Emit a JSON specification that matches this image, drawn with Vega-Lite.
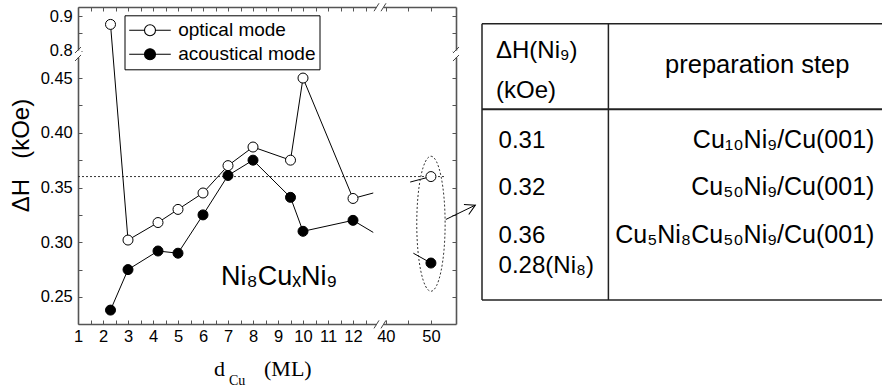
{
  "$schema": "https://vega.github.io/schema/vega-lite/v6.json",
  "padding": {"left": 9, "top": 2, "right": 0, "bottom": 0},
  "bounds": "flush",
  "spacing": 26,
  "config": {"font": "Liberation Sans", "view": {"stroke": null}, "axis": {"grid": false}},
  "hconcat": [
    {
      "width": 378,
      "height": 317,
      "data": {"values": [
        {"mode": "optical mode", "d": 2.3, "dH": 0.876, "part": "a", "kind": "measured"},
        {"mode": "optical mode", "d": 3, "dH": 0.302, "part": "a", "kind": "measured"},
        {"mode": "optical mode", "d": 4.2, "dH": 0.318, "part": "a", "kind": "measured"},
        {"mode": "optical mode", "d": 5, "dH": 0.330, "part": "a", "kind": "measured"},
        {"mode": "optical mode", "d": 6, "dH": 0.345, "part": "a", "kind": "measured"},
        {"mode": "optical mode", "d": 7, "dH": 0.370, "part": "a", "kind": "measured"},
        {"mode": "optical mode", "d": 8, "dH": 0.387, "part": "a", "kind": "measured"},
        {"mode": "optical mode", "d": 9.5, "dH": 0.375, "part": "a", "kind": "measured"},
        {"mode": "optical mode", "d": 10, "dH": 0.450, "part": "a", "kind": "measured"},
        {"mode": "optical mode", "d": 12, "dH": 0.340, "part": "a", "kind": "measured"},
        {"mode": "optical mode", "d": 12.81, "dH": 0.345, "part": "a", "kind": "stub"},
        {"mode": "optical mode", "d": 45.4, "dH": 0.355, "part": "b", "kind": "stub"},
        {"mode": "optical mode", "d": 50, "dH": 0.360, "part": "b", "kind": "measured"},
        {"mode": "acoustical mode", "d": 2.3, "dH": 0.238, "part": "a", "kind": "measured"},
        {"mode": "acoustical mode", "d": 3, "dH": 0.275, "part": "a", "kind": "measured"},
        {"mode": "acoustical mode", "d": 4.2, "dH": 0.292, "part": "a", "kind": "measured"},
        {"mode": "acoustical mode", "d": 5, "dH": 0.290, "part": "a", "kind": "measured"},
        {"mode": "acoustical mode", "d": 6, "dH": 0.325, "part": "a", "kind": "measured"},
        {"mode": "acoustical mode", "d": 7, "dH": 0.361, "part": "a", "kind": "measured"},
        {"mode": "acoustical mode", "d": 8, "dH": 0.375, "part": "a", "kind": "measured"},
        {"mode": "acoustical mode", "d": 9.5, "dH": 0.341, "part": "a", "kind": "measured"},
        {"mode": "acoustical mode", "d": 10, "dH": 0.310, "part": "a", "kind": "measured"},
        {"mode": "acoustical mode", "d": 12, "dH": 0.320, "part": "a", "kind": "measured"},
        {"mode": "acoustical mode", "d": 12.81, "dH": 0.309, "part": "a", "kind": "stub"},
        {"mode": "acoustical mode", "d": 46.1, "dH": 0.290, "part": "b", "kind": "stub"},
        {"mode": "acoustical mode", "d": 50, "dH": 0.281, "part": "b", "kind": "measured"}
      ]},
      "layer": [
        {
          "data": {"values": [{}]},
          "mark": {"type": "rule", "strokeDash": [2, 2], "color": "#333", "strokeWidth": 1},
          "encoding": {
            "x": {"datum": 1, "type": "quantitative", "axis": null},
            "x2": {"datum": 53.2},
            "y": {"datum": 0.36, "type": "quantitative", "axis": null}
          }
        },
        {
          "mark": {"type": "line", "color": "black", "strokeWidth": 1, "clip": false},
          "encoding": {
            "x": {
              "field": "d", "type": "quantitative",
              "scale": {"type": "linear", "domain": [1, 13.08, 38.7, 55.56], "range": [0, 302, 302, 378], "nice": false, "zero": false},
              "axis": {
                "orient": "bottom", "title": null,
                "values": [1,1.5,2,2.5,3,3.5,4,4.5,5,5.5,6,6.5,7,7.5,8,8.5,9,9.5,10,10.5,11,11.5,12,12.5,40,45,50],
                "labelExpr": "((datum.value % 1 == 0) && datum.value <= 12) || datum.value == 40 || datum.value == 50 ? format(datum.value, 'd') : ''",
                "tickSize": -4, "labelPadding": 8, "labelFontSize": 16.5, "labelColor": "black", "labelFont": "Liberation Sans",
                "domainColor": "#555", "domainWidth": 1.6, "tickColor": "#555", "tickWidth": 1,
                "labelOverlap": false, "labelFlush": false, "labelBound": false
              }
            },
            "y": {
              "field": "dH", "type": "quantitative",
              "scale": {"type": "linear", "domain": [0.2253, 0.472, 0.791, 0.926], "range": [317, 47, 47, 0], "nice": false, "zero": false},
              "axis": {
                "orient": "left", "title": "ΔH\u00a0\u00a0\u00a0(kOe)",
                "values": [0.25,0.275,0.3,0.325,0.35,0.375,0.4,0.425,0.45,0.8,0.85,0.9],
                "labelExpr": "datum.value >= 0.7 ? (datum.value == 0.85 ? '' : format(datum.value, '.1f')) : (indexof([0.25,0.3,0.35,0.4,0.45], datum.value) >= 0 ? format(datum.value, '.2f') : '')",
                "tickSize": -4, "labelPadding": 9.7, "labelFontSize": 16.5, "labelColor": "black", "labelFont": "Liberation Sans",
                "domainColor": "#555", "domainWidth": 1.6, "tickColor": "#555", "tickWidth": 1,
                "labelOverlap": false, "labelFlush": false, "labelBound": false,
                "titleFontSize": 24, "titleFont": "Liberation Sans", "titleFontWeight": "normal", "titleColor": "black",
                "titlePadding": 7, "titleY": 148
              }
            },
            "detail": [{"field": "mode"}, {"field": "part"}]
          }
        },
        {
          "transform": [{"filter": "datum.kind == 'measured'"}],
          "mark": {"type": "point", "shape": "circle", "size": 100, "filled": true, "stroke": "black", "strokeWidth": 1, "opacity": 1, "clip": false},
          "encoding": {
            "x": {
              "field": "d", "type": "quantitative",
              "axis": {
                "orient": "top", "title": null, "labels": false,
                "values": [1,1.5,2,2.5,3,3.5,4,4.5,5,5.5,6,6.5,7,7.5,8,8.5,9,9.5,10,10.5,11,11.5,12,12.5,40,45,50],
                "tickSize": -4, "domainColor": "#555", "domainWidth": 1.6, "tickColor": "#555", "tickWidth": 1
              }
            },
            "y": {
              "field": "dH", "type": "quantitative",
              "axis": {
                "orient": "right", "title": null, "labels": false,
                "values": [0.25,0.275,0.3,0.325,0.35,0.375,0.4,0.425,0.45,0.8,0.85,0.9],
                "tickSize": -4, "domainColor": "#555", "domainWidth": 1.6, "tickColor": "#555", "tickWidth": 1
              }
            },
            "fill": {
              "field": "mode", "type": "nominal",
              "scale": {"domain": ["optical mode", "acoustical mode"], "range": ["white", "black"]},
              "legend": {
                "orient": "none", "legendX": 46.5, "legendY": 8.3, "title": null,
                "padding": 4, "strokeColor": "black", "fillColor": "white",
                "labelFontSize": 19, "labelFont": "Liberation Sans", "labelColor": "black", "labelOffset": 6.7,
                "symbolType": "M-1,0L-0.264,0M0.264,0L1,0M-0.264,0A0.264,0.264,0,1,1,0.264,0A0.264,0.264,0,1,1,-0.264,0Z",
                "symbolSize": 1731, "symbolStrokeColor": "black", "symbolStrokeWidth": 1.1, "symbolOpacity": 1,
                "clipHeight": 22, "rowPadding": 2
              }
            }
          }
        },
        {
          "data": {"values": [{}]},
          "mark": {"type": "point", "shape": "M0,-1A0.21,1,0,1,1,0,1A0.21,1,0,1,1,0,-1Z", "size": 18225, "filled": false, "stroke": "#333", "strokeWidth": 1, "strokeDash": [2, 2], "opacity": 1, "clip": false},
          "encoding": {
            "x": {"datum": 50, "type": "quantitative", "axis": null},
            "y": {"datum": 0.3169, "type": "quantitative", "axis": null}
          }
        },
        {
          "data": {"values": [{}]},
          "mark": {"type": "rule", "color": "black", "strokeWidth": 1, "clip": false},
          "encoding": {
            "x": {"datum": 53.3, "type": "quantitative", "axis": null},
            "x2": {"datum": 59.85},
            "y": {"datum": 0.3208, "type": "quantitative", "axis": null},
            "y2": {"datum": 0.3339}
          }
        },
        {
          "data": {"values": [{}]},
          "mark": {"type": "point", "shape": "M-1,-0.55L0,0L-1,0.55", "size": 400, "filled": false, "stroke": "black", "strokeWidth": 1, "opacity": 1, "angle": 334, "clip": false},
          "encoding": {
            "x": {"datum": 59.85, "type": "quantitative", "axis": null},
            "y": {"datum": 0.3339, "type": "quantitative", "axis": null}
          }
        },
        {
          "data": {"values": [{}]},
          "mark": {"type": "point", "shape": "square", "size": 49, "filled": true, "color": "white", "opacity": 1, "clip": false},
          "encoding": {"x": {"datum": 1, "type": "quantitative", "axis": null}, "y": {"datum": 0.6, "type": "quantitative", "axis": null}}
        },
        {
          "data": {"values": [{}]},
          "mark": {"type": "point", "shape": "square", "size": 49, "filled": true, "color": "white", "opacity": 1, "clip": false},
          "encoding": {"x": {"datum": 55.56, "type": "quantitative", "axis": null}, "y": {"datum": 0.6, "type": "quantitative", "axis": null}}
        },
        {
          "data": {"values": [{}]},
          "mark": {"type": "point", "shape": "square", "size": 49, "filled": true, "color": "white", "opacity": 1, "clip": false},
          "encoding": {"x": {"datum": 20, "type": "quantitative", "axis": null}, "y": {"datum": 0.2253, "type": "quantitative", "axis": null}}
        },
        {
          "data": {"values": [{}]},
          "mark": {"type": "point", "shape": "square", "size": 49, "filled": true, "color": "white", "opacity": 1, "clip": false},
          "encoding": {"x": {"datum": 20, "type": "quantitative", "axis": null}, "y": {"datum": 0.926, "type": "quantitative", "axis": null}}
        },
        {
          "data": {"values": [{}]},
          "mark": {"type": "rule", "color": "#444", "strokeWidth": 1, "clip": false},
          "encoding": {"x": {"datum": 0.88, "type": "quantitative", "axis": null}, "x2": {"datum": 1.12}, "y": {"datum": 0.7939, "type": "quantitative", "axis": null}, "y2": {"datum": 0.811}}
        },
        {
          "data": {"values": [{}]},
          "mark": {"type": "rule", "color": "#444", "strokeWidth": 1, "clip": false},
          "encoding": {"x": {"datum": 0.88, "type": "quantitative", "axis": null}, "x2": {"datum": 1.12}, "y": {"datum": 0.4656, "type": "quantitative", "axis": null}, "y2": {"datum": 0.4711}}
        },
        {
          "data": {"values": [{}]},
          "mark": {"type": "rule", "color": "#444", "strokeWidth": 1, "clip": false},
          "encoding": {"x": {"datum": 54.89, "type": "quantitative", "axis": null}, "x2": {"datum": 56.23}, "y": {"datum": 0.7939, "type": "quantitative", "axis": null}, "y2": {"datum": 0.811}}
        },
        {
          "data": {"values": [{}]},
          "mark": {"type": "rule", "color": "#444", "strokeWidth": 1, "clip": false},
          "encoding": {"x": {"datum": 54.89, "type": "quantitative", "axis": null}, "x2": {"datum": 56.23}, "y": {"datum": 0.4656, "type": "quantitative", "axis": null}, "y2": {"datum": 0.4711}}
        },
        {
          "data": {"values": [{}]},
          "mark": {"type": "rule", "color": "#444", "strokeWidth": 1, "clip": false},
          "encoding": {"x": {"datum": 12.84, "type": "quantitative", "axis": null}, "x2": {"datum": 13.04}, "y": {"datum": 0.2213, "type": "quantitative", "axis": null}, "y2": {"datum": 0.2286}}
        },
        {
          "data": {"values": [{}]},
          "mark": {"type": "rule", "color": "#444", "strokeWidth": 1, "clip": false},
          "encoding": {"x": {"datum": 38.92, "type": "quantitative", "axis": null}, "x2": {"datum": 40.03}, "y": {"datum": 0.2213, "type": "quantitative", "axis": null}, "y2": {"datum": 0.2286}}
        },
        {
          "data": {"values": [{}]},
          "mark": {"type": "rule", "color": "#444", "strokeWidth": 1, "clip": false},
          "encoding": {"x": {"datum": 12.84, "type": "quantitative", "axis": null}, "x2": {"datum": 13.04}, "y": {"datum": 0.9139, "type": "quantitative", "axis": null}, "y2": {"datum": 0.9367}}
        },
        {
          "data": {"values": [{}]},
          "mark": {"type": "rule", "color": "#444", "strokeWidth": 1, "clip": false},
          "encoding": {"x": {"datum": 38.92, "type": "quantitative", "axis": null}, "x2": {"datum": 40.03}, "y": {"datum": 0.9139, "type": "quantitative", "axis": null}, "y2": {"datum": 0.9367}}
        },
        {
          "data": {"values": [{}]},
          "mark": {"type": "text", "text": "Ni₈CuₓNi₉", "fontSize": 27, "font": "Liberation Sans", "align": "left", "baseline": "alphabetic", "color": "black"},
          "encoding": {
            "x": {"datum": 6.72, "type": "quantitative", "axis": null},
            "y": {"datum": 0.2613, "type": "quantitative", "axis": null}
          }
        },
        {
          "data": {"values": [{}]},
          "mark": {"type": "text", "text": "d", "fontSize": 22, "font": "Liberation Serif", "align": "left", "baseline": "alphabetic", "color": "black", "clip": false},
          "encoding": {
            "x": {"datum": 6.44, "type": "quantitative", "axis": null},
            "y": {"datum": 0.1774, "type": "quantitative", "axis": null}
          }
        },
        {
          "data": {"values": [{}]},
          "mark": {"type": "text", "text": "Cu", "fontSize": 14, "font": "Liberation Serif", "align": "left", "baseline": "alphabetic", "color": "black", "clip": false},
          "encoding": {
            "x": {"datum": 7.04, "type": "quantitative", "axis": null},
            "y": {"datum": 0.1692, "type": "quantitative", "axis": null}
          }
        },
        {
          "data": {"values": [{}]},
          "mark": {"type": "text", "text": "(ML)", "fontSize": 22, "font": "Liberation Serif", "align": "left", "baseline": "alphabetic", "color": "black", "clip": false},
          "encoding": {
            "x": {"datum": 8.44, "type": "quantitative", "axis": null},
            "y": {"datum": 0.1774, "type": "quantitative", "axis": null}
          }
        }
      ],
      "resolve": {"axis": {"x": "independent", "y": "independent"}}
    },
    {
      "width": 400,
      "height": 293,
      "data": {"values": [
        {"row": 1, "dH": "0.31", "step": "Cu₁₀Ni₉/Cu(001)"},
        {"row": 2, "dH": "0.32", "step": "Cu₅₀Ni₉/Cu(001)"},
        {"row": 3, "dH": "0.36\n0.28(Ni₈)", "step": "Cu₅Ni₈Cu₅₀Ni₉/Cu(001)"}
      ]},
      "layer": [
        {
          "mark": {"type": "text", "align": "left", "baseline": "alphabetic", "fontSize": 24, "font": "Liberation Sans", "lineBreak": "\n", "lineHeight": 30, "color": "black"},
          "encoding": {
            "x": {"datum": 0.415, "type": "quantitative", "scale": {"domain": [0, 10], "nice": false, "zero": false}, "axis": null},
            "y": {"field": "row", "type": "quantitative", "scale": {"domain": [-1.962, 4.206], "reverse": true, "nice": false, "zero": false}, "axis": null},
            "text": {"field": "dH"}
          }
        },
        {
          "mark": {"type": "text", "align": "right", "baseline": "alphabetic", "fontSize": 25, "font": "Liberation Sans", "color": "black"},
          "encoding": {
            "x": {"datum": 9.81, "type": "quantitative", "axis": null},
            "y": {"field": "row", "type": "quantitative", "axis": null},
            "text": {"field": "step"}
          }
        },
        {
          "data": {"values": [{}]},
          "mark": {"type": "text", "text": ["ΔH(Ni₉)", "(kOe)"], "lineHeight": 40, "align": "left", "baseline": "alphabetic", "fontSize": 24, "font": "Liberation Sans", "color": "black"},
          "encoding": {
            "x": {"datum": 0.35, "type": "quantitative", "axis": null},
            "y": {"datum": -0.895, "type": "quantitative", "axis": null}
          }
        },
        {
          "data": {"values": [{}]},
          "mark": {"type": "text", "text": "preparation step", "align": "center", "baseline": "alphabetic", "fontSize": 25.5, "font": "Liberation Sans", "color": "black"},
          "encoding": {
            "x": {"datum": 6.88, "type": "quantitative", "axis": null},
            "y": {"datum": -0.579, "type": "quantitative", "axis": null}
          }
        },
        {
          "data": {"values": [{}]},
          "mark": {"type": "rule", "color": "#222", "strokeWidth": 1.5},
          "encoding": {
            "x": {"datum": 0, "type": "quantitative", "axis": null},
            "x2": {"datum": 10},
            "y": {"datum": -1.61, "type": "quantitative", "axis": null}
          }
        },
        {
          "data": {"values": [{}]},
          "mark": {"type": "rule", "color": "#222", "strokeWidth": 2},
          "encoding": {
            "x": {"datum": 0, "type": "quantitative", "axis": null},
            "x2": {"datum": 10},
            "y": {"datum": 0.192, "type": "quantitative", "axis": null}
          }
        },
        {
          "data": {"values": [{}]},
          "mark": {"type": "rule", "color": "#222", "strokeWidth": 1.5},
          "encoding": {
            "x": {"datum": 0, "type": "quantitative", "axis": null},
            "x2": {"datum": 10},
            "y": {"datum": 4.206, "type": "quantitative", "axis": null}
          }
        },
        {
          "data": {"values": [{}]},
          "mark": {"type": "rule", "color": "#222", "strokeWidth": 1.5},
          "encoding": {
            "x": {"datum": 0, "type": "quantitative", "axis": null},
            "y": {"datum": -1.61, "type": "quantitative", "axis": null},
            "y2": {"datum": 4.206}
          }
        },
        {
          "data": {"values": [{}]},
          "mark": {"type": "rule", "color": "#222", "strokeWidth": 1.5},
          "encoding": {
            "x": {"datum": 3.16, "type": "quantitative", "axis": null},
            "y": {"datum": -1.61, "type": "quantitative", "axis": null},
            "y2": {"datum": 4.206}
          }
        }
      ]
    }
  ]
}
